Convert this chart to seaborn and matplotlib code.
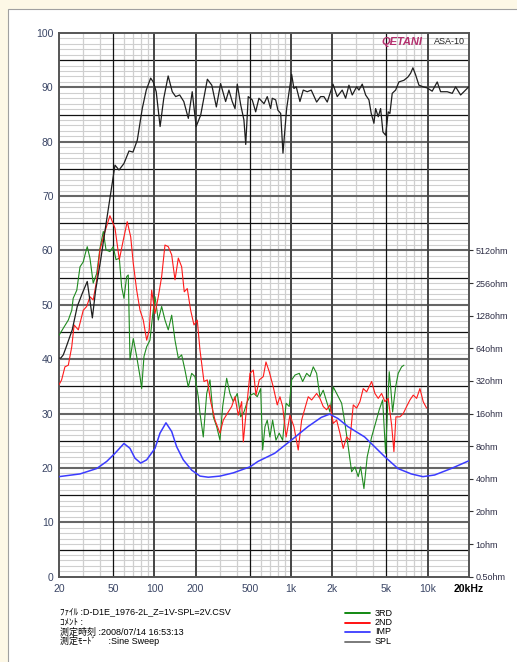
import matplotlib
matplotlib.use("Agg")
import matplotlib.pyplot as plt
import seaborn as sns
from matplotlib.patches import Rectangle
from matplotlib.lines import Line2D
from matplotlib.ticker import NullLocator

# values (frequency in Hz, level in dB, impedance in ohm)
spl_freq = [20, 20.6, 21.5, 22.4, 25.0, 27.2, 29.6, 32.2, 35.1, 37.1,
            40.4, 43.9, 47.8, 51.4, 55.0, 59.8, 65.1, 69.6, 74.9, 81.4,
            87.1, 93.8, 98.0, 103, 110, 117, 126, 135, 143, 153,
            164, 177, 189, 202, 218, 244, 263, 284, 305, 332,
            351, 371, 389, 404, 428, 452, 466, 486, 520, 551,
            582, 634, 670, 709, 729, 772, 802, 840, 873, 929,
            1010, 1050, 1092, 1162, 1229, 1315, 1406, 1540, 1647, 1742,
            1842, 2028, 2180, 2371, 2511, 2655, 2807, 3023, 3143, 3323,
            3519, 3720, 3866, 4046, 4164, 4351, 4530, 4709, 4928, 5149,
            5298, 5508, 5833, 6166, 6708, 7177, 7512, 7808, 8172, 8642,
            9285, 9935, 10808, 11763, 12457, 13925, 15151, 16044, 17451, 18450, 20000]
spl_db = [40.2, 40.2, 40.8, 42.0, 45.4, 49.7, 52.1, 54.3, 47.6, 52.7,
          58.3, 64.4, 70.5, 75.7, 74.8, 76.0, 78.3, 78.1, 80.3, 86.1,
          89.5, 91.7, 91.0, 89.2, 82.8, 88.0, 92.1, 89.2, 88.3, 88.6,
          87.4, 84.3, 89.2, 82.8, 84.9, 91.5, 90.4, 86.4, 90.7, 87.4,
          89.5, 87.4, 86.1, 90.6, 86.8, 84.0, 79.5, 88.3, 87.7, 85.5,
          88.0, 87.0, 88.3, 86.1, 88.0, 87.7, 85.8, 85.2, 77.9, 86.1,
          92.4, 89.8, 90.1, 87.4, 89.5, 89.2, 89.5, 87.3, 88.3, 88.3,
          87.3, 90.6, 88.3, 89.5, 88.0, 90.4, 88.6, 90.1, 89.5, 90.6,
          88.6, 87.7, 85.2, 83.4, 86.1, 84.6, 86.1, 81.8, 81.2, 85.5,
          85.2, 88.9, 89.5, 91.0, 91.3, 91.9, 92.6, 93.6, 92.3, 90.4,
          90.1, 89.9, 89.3, 91.0, 89.2, 89.2, 88.9, 90.1, 88.6, 89.2, 90.1]

h2_freq = [20.0, 20.9, 21.5, 22.1, 23.4, 24.8, 25.8, 27.7, 30.1, 31.9,
           33.7, 35.6, 37.8, 39.9, 43.4, 47.2, 51.4, 55.3, 59.1, 63.2,
           67.0, 70.0, 74.1, 78.4, 82.8, 87.7, 91.6, 95.4, 100.9, 106.7,
           112.9, 119.4, 126.2, 133.7, 141.4, 149.5, 158.2, 165.3, 173.9, 184.1,
           194.7, 205.8, 215.4, 230.4, 243.7, 258.2, 277.4, 301.8, 319.1, 347.1,
           367.6, 388.5, 410.9, 435.2, 447.2, 473.6, 500.6, 529.3, 553.8, 585.6,
           626.3, 655.5, 692.9, 741.2, 792.7, 829.6, 868.3, 920.5, 982, 1050,
           1129, 1196, 1265, 1337, 1416, 1540, 1628, 1721, 1823, 1927,
           2038, 2158, 2281, 2411, 2554, 2700, 2855, 3023, 3196, 3379,
           3578, 3893, 4115, 4351, 4607, 4870, 5149, 5453, 5668, 5862,
           6271, 6631, 7022, 7423, 7849, 8310, 8788, 9285, 9836]
h2_db = [35.3, 36.2, 37.4, 38.6, 38.9, 42.3, 46.3, 45.4, 49.0, 49.7,
         51.5, 50.9, 54.6, 60.1, 63.5, 66.4, 64.1, 58.3, 61.9, 65.3,
         62.5, 57.6, 52.7, 49.0, 47.2, 43.5, 45.4, 52.7, 48.4, 51.5,
         55.2, 61.0, 60.7, 59.2, 54.6, 58.6, 57.0, 52.4, 53.0, 49.0,
         46.3, 47.2, 41.7, 35.9, 36.2, 32.2, 28.8, 26.4, 28.8, 30.3,
         31.3, 33.1, 29.7, 32.2, 24.8, 31.3, 37.4, 38.0, 33.4, 36.2,
         36.8, 39.5, 37.7, 34.9, 31.6, 33.1, 31.3, 25.7, 29.7, 27.6,
         23.3, 28.8, 31.0, 33.1, 32.5, 33.7, 32.8, 31.3, 30.7, 31.6,
         28.2, 28.8, 26.4, 23.6, 25.7, 25.1, 31.6, 31.0, 32.2, 34.6,
         34.0, 35.9, 33.7, 32.8, 33.7, 32.2, 32.8, 27.9, 23.0, 29.4,
         29.4, 30.0, 31.3, 32.5, 33.4, 32.8, 34.6, 32.2, 31.0]

h3_freq = [20.0, 21.5, 23.4, 24.8, 25.4, 27.0, 28.5, 30.1, 31.0, 32.2,
           33.7, 35.6, 37.8, 39.9, 42.2, 44.2, 47.2, 49.9, 52.3, 55.3,
           57.5, 59.8, 62.6, 64.3, 66.2, 70.0, 74.1, 78.4, 80.6, 83.8,
           87.7, 92.7, 97.0, 100.9, 106.7, 112.9, 119.4, 126.2, 133.7, 141.4,
           149.5, 158.2, 167.3, 176.8, 187.3, 198.0, 209.3, 215.4, 227.8, 241.3,
           255.0, 269.6, 285.5, 301.8, 315.9, 337.9, 357.2, 377.6, 404.0, 427.9,
           452.3, 478.4, 506.2, 535.3, 566.0, 599.4, 619.9, 644.6, 669.8, 700.9,
           733.4, 775.6, 820.0, 868.3, 920.5, 970.6, 1010, 1071, 1149, 1217,
           1302, 1376, 1455, 1540, 1628, 1721, 1823, 1927, 2038, 2158,
           2348, 2482, 2624, 2778, 2937, 3105, 3233, 3419, 3615, 3893,
           4185, 4425, 4686, 4928, 5097, 5237, 5389, 5545, 5833, 6094, 6454, 6708]
h3_db = [44.4, 45.7, 47.2, 49.0, 51.2, 52.7, 57.0, 57.9, 59.2, 60.7,
         58.6, 54.0, 55.8, 60.4, 63.5, 60.1, 59.8, 60.7, 58.3, 58.6,
         53.3, 51.2, 55.2, 55.5, 39.9, 43.8, 40.5, 36.8, 34.6, 40.5,
         42.3, 43.5, 48.1, 51.5, 47.2, 49.7, 47.2, 45.4, 48.1, 43.5,
         40.2, 40.8, 38.0, 34.9, 37.4, 36.8, 33.1, 30.1, 25.7, 33.7,
         36.2, 29.4, 27.6, 25.1, 31.3, 36.5, 33.7, 32.2, 33.7, 29.4,
         30.3, 32.2, 33.4, 33.7, 33.1, 34.6, 23.3, 27.6, 28.8, 25.7,
         28.8, 25.1, 26.4, 25.1, 31.9, 31.3, 36.2, 37.1, 37.4, 35.9,
         37.4, 36.8, 38.6, 37.4, 33.1, 34.3, 32.2, 30.3, 34.9, 33.7,
         31.9, 28.2, 23.9, 19.3, 20.2, 18.4, 20.2, 16.2, 22.1, 25.7,
         28.5, 30.7, 32.5, 22.7, 31.3, 37.7, 34.3, 30.3, 34.9, 37.4, 38.6, 38.9]

imp_freq = [20, 28.5, 37.8, 44.7, 51.4, 59.8, 66.2, 72.0, 79.3, 87.7,
            100.9, 109.8, 121.4, 133.7, 145.4, 162.5, 187.3, 215.4, 247.8, 301.8,
            377.6, 500.6, 572.6, 758.9, 1003, 1330, 1665, 1917, 2206, 2610,
            3460, 4094, 4844, 6064, 7589, 9239, 11258, 14894, 20000]
imp_ohm = [4.19, 4.44, 4.98, 5.79, 6.88, 8.48, 7.64, 6.20, 5.59, 5.99,
           7.64, 10.56, 13.15, 10.93, 7.91, 5.99, 4.81, 4.24, 4.14, 4.24,
           4.54, 5.16, 5.79, 6.88, 9.08, 12.13, 14.76, 15.81, 14.42, 12.13,
           9.74, 7.91, 6.42, 4.98, 4.44, 4.19, 4.34, 4.98, 5.86]

x_ticks = [20, 50, 100, 200, 500, 1000, 2000, 5000, 10000, 20000]
x_labels = ["20", "50", "100", "200", "500", "1k", "2k", "5k", "10k", "20kHz"]
y_ticks = list(range(0, 101, 10))
ohm_ticks = [0.5, 1, 2, 4, 8, 16, 32, 64, 128, 256, 512]
ohm_labels = ["0.5ohm", "1ohm", "2ohm", "4ohm", "8ohm", "16ohm", "32ohm",
              "64ohm", "128ohm", "256ohm", "512ohm"]

footer = ["ﾌｧｲﾙ :D-D1E_1976-2L_Z=1V-SPL=2V.CSV",
          "ｺﾒﾝﾄ :",
          "測定時刻 :2008/07/14 16:53:13",
          "測定ﾓｰﾄﾞ     :Sine Sweep"]
legend_names = ["3RD", "2ND", "IMP", "SPL"]
legend_colors = ["#008000", "#ff0000", "#3b3bff", "#707070"]

sns.set_style("white")
plt.rcParams["font.family"] = ["Liberation Sans", "Noto Sans CJK JP", "DejaVu Sans"]

W, H = 517, 662
fig = plt.figure(figsize=(W / 100, H / 100), dpi=100)
fig.patch.set_facecolor("#fdf8e6")
fig.add_artist(Rectangle((7.5 / W, -0.02), 1.0, 1 - 8.5 / H + 0.02,
                         transform=fig.transFigure, facecolor="white",
                         edgecolor="#a0a0a0", lw=0.8, zorder=-1))

ax = fig.add_axes([59 / W, (H - 576.7) / H, 409.7 / W, 543.7 / H])
ax.set_facecolor("white")
ax.set_xscale("log")
ax.set_xlim(20, 20000)
ax.set_ylim(0, 100)

# grid: 1 dB light lines, 5 dB black, 10 dB dark grey
for v in range(1, 100):
    if v % 10 == 0:
        ax.axhline(v, color="#666666", lw=1.5, zorder=1)
    elif v % 5 == 0:
        ax.axhline(v, color="#111111", lw=0.9, zorder=1)
    else:
        ax.axhline(v, color="#cfcfcf", lw=0.8, zorder=0.5)
for dec in [10, 100, 1000, 10000]:
    for m in range(1, 10):
        f = m * dec
        if f <= 20 or f >= 20000:
            continue
        if m == 5:
            ax.axvline(f, color="#111111", lw=0.9, zorder=1)
        elif m in (1, 2):
            ax.axvline(f, color="#444444", lw=1.4, zorder=1)
        else:
            ax.axvline(f, color="#cfcfcf", lw=0.9, zorder=0.6)

sns.lineplot(x=h3_freq, y=h3_db, ax=ax, color="#1f8a1f", lw=0.8,
             estimator=None, sort=False, zorder=3)
sns.lineplot(x=h2_freq, y=h2_db, ax=ax, color="#ff1a1a", lw=0.8,
             estimator=None, sort=False, zorder=3)
sns.lineplot(x=spl_freq, y=spl_db, ax=ax, color="#1e1e1e", lw=0.9,
             estimator=None, sort=False, zorder=4)

ax.set_xticks(x_ticks)
ax.set_xticklabels(x_labels)
ax.xaxis.set_minor_locator(NullLocator())
ax.set_yticks(y_ticks)
ax.set_yticklabels([str(t) for t in y_ticks])
ax.tick_params(axis="both", length=0, labelsize=7.5, labelcolor="#3a4565")
ax.tick_params(axis="x", pad=5)
ax.tick_params(axis="y", pad=4)
for lab in ax.get_xticklabels():
    if lab.get_text() == "20kHz":
        lab.set_color("black")
        lab.set_fontweight("bold")
ax.set_xlabel("")
ax.set_ylabel("")
for sp in ax.spines.values():
    sp.set_color("#555555")
    sp.set_linewidth(1.4)

ax2 = ax.twinx()
ax2.set_yscale("log", base=2)
ax2.set_ylim(0.5, 0.5 * 2 ** (100 / 6))
sns.lineplot(x=imp_freq, y=imp_ohm, ax=ax2, color="#3b3bff", lw=1.1,
             estimator=None, sort=False)
ax2.set_yticks(ohm_ticks)
ax2.set_yticklabels(ohm_labels)
ax2.yaxis.set_minor_locator(NullLocator())
ax2.tick_params(axis="y", length=3, width=0.8, color="#333333", pad=2,
                labelsize=6.5, labelcolor="#2d2d45")
ax2.set_ylabel("")
for sp in ax2.spines.values():
    sp.set_visible(False)

# logo
ax.text(0.786, 0.984, "QETANI", transform=ax.transAxes, ha="left", va="center",
        fontsize=8, fontstyle="italic", fontweight="bold", color="#b4306e", zorder=5)
ax.text(0.992, 0.984, "ASA-10", transform=ax.transAxes, ha="right", va="center",
        fontsize=6.5, color="#222222", zorder=5)

# footer text and legend
rows_y = [613, 622.5, 632, 641.5]
for y, line in zip(rows_y, footer):
    fig.text(60 / W, (H - y) / H, line, ha="left", va="center", fontsize=6.5, color="black")
for y, name, col in zip(rows_y, legend_names, legend_colors):
    fig.add_artist(Line2D([345 / W, 370 / W], [(H - y) / H] * 2, color=col, lw=1.3,
                          transform=fig.transFigure))
    fig.text(375 / W, (H - y) / H, name, ha="left", va="center", fontsize=6.5, color="black")

fig.savefig("out.png", dpi=100)
